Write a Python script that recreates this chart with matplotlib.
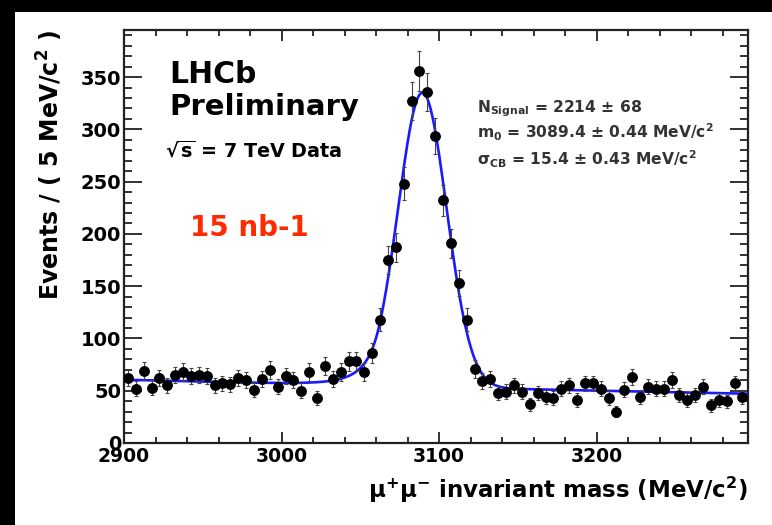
import numpy as np
import matplotlib
matplotlib.use('Agg')
import matplotlib.pyplot as plt
import matplotlib.ticker as ticker
from matplotlib.patches import Rectangle
from math import erf

plt.rcParams['font.family'] = ['DejaVu Sans']
plt.rcParams['font.weight'] = 'bold'
plt.rcParams['axes.labelweight'] = 'bold'
plt.rcParams['mathtext.default'] = 'regular'

# dimuon mass spectrum, 5 MeV bins
mass = np.arange(2902.5, 3296, 5.0)
counts = [62, 52, 69, 53, 62, 55, 65, 68, 64, 65,
          64, 55, 57, 56, 62, 60, 51, 61, 70, 54,
          64, 60, 50, 68, 43, 74, 61, 68, 78, 78,
          68, 86, 118, 175, 187, 248, 327, 356, 336, 294,
          232, 191, 153, 118, 71, 59, 61, 48, 49, 55,
          49, 37, 48, 44, 43, 52, 55, 41, 57, 57,
          52, 43, 30, 51, 63, 44, 54, 52, 52, 60,
          46, 41, 46, 54, 36, 41, 40, 57, 44]

# fit result (Crystal Ball signal + exponential background)
n_signal = 2214
m0 = 3089.4
sigma_cb = 15.4
cb_alpha = 1.8
cb_n = 5.0
bg_norm = 60.5
bg_slope = -0.00063
bin_width = 5.0
x_lo, x_hi = 2900, 3296


def crystal_ball(x):
    t = (x - m0) / sigma_cb
    a = abs(cb_alpha)
    A = (cb_n / a) ** cb_n * np.exp(-0.5 * a * a)
    B = cb_n / a - a
    core = np.exp(-0.5 * t * t)
    tail = A * np.power(np.clip(B - t, 1e-9, None), -cb_n)
    return np.where(t > -a, core, tail)


def fit_model(x):
    a = abs(cb_alpha)
    norm = (cb_n / a / (cb_n - 1) * np.exp(-0.5 * a * a)
            + np.sqrt(np.pi / 2) * (1 + erf(a / np.sqrt(2))))
    sig = n_signal * bin_width / (sigma_cb * norm) * crystal_ball(x)
    bg = bg_norm * np.exp(bg_slope * (x - x_lo))
    return sig + bg


fig = plt.figure(figsize=(7.72, 5.25), dpi=100)
fig.patch.set_facecolor('black')
fig.patches.append(Rectangle((15 / 772, 0), 1, 1 - 12 / 525, transform=fig.transFigure,
                             facecolor='white', edgecolor='none', zorder=-10))

ax = fig.add_axes([124 / 772, 1 - 443 / 525, (748 - 124) / 772, (443 - 30) / 525])
ax.set_facecolor('white')

xs = np.linspace(x_lo, x_hi, 800)
ax.plot(xs, fit_model(xs), color='#1a1aff', lw=1.9, zorder=3)
ax.errorbar(mass, counts, yerr=np.sqrt(counts), fmt='o', color='black', ms=6.8,
            ecolor='#444444', elinewidth=0.8, capsize=1.2, capthick=0.8, zorder=4)

ax.set_xlim(x_lo, x_hi)
ax.set_ylim(0, 395)
ax.xaxis.set_major_locator(ticker.MultipleLocator(100))
ax.xaxis.set_minor_locator(ticker.MultipleLocator(20))
ax.yaxis.set_major_locator(ticker.MultipleLocator(50))
ax.yaxis.set_minor_locator(ticker.MultipleLocator(10))
ax.tick_params(which='both', direction='in', top=True, right=True, width=1.3,
               color='#222222', labelsize=13.5, pad=3)
ax.tick_params(axis='x', which='major', length=8)
ax.tick_params(axis='x', which='minor', length=4)
ax.tick_params(axis='y', which='major', length=13)
ax.tick_params(axis='y', which='minor', length=6)
ax.tick_params(axis='y', labelsize=14, pad=2)
for s in ax.spines.values():
    s.set_linewidth(1.6)
    s.set_color('#222222')

ax.set_xlabel(r'$\mu^{+}\mu^{-}$ invariant mass (MeV/c$^{2}$)', fontsize=16.5, ha='right',
              x=1.0, labelpad=6)
ax.set_ylabel(r'Events / ( 5 MeV/c$^{2}$ )', fontsize=17, ha='right', y=1.0, labelpad=11)

ax.text(0.073, 0.872, 'LHCb', transform=ax.transAxes, fontsize=21.5, va='baseline')
ax.text(0.073, 0.794, 'Preliminary', transform=ax.transAxes, fontsize=21, va='baseline')
ax.text(0.066, 0.692, r'$\sqrt{s}$ = 7 TeV Data', transform=ax.transAxes, fontsize=13.8,
        va='baseline')
ax.text(0.106, 0.501, '15 nb-1', transform=ax.transAxes, fontsize=20, color='#ff2a00',
        va='baseline')

stats = [r'N$_{Signal}$ = 2214 $\pm$ 68',
         r'm$_{0}$ = 3089.4 $\pm$ 0.44 MeV/c$^{2}$',
         r'$\sigma_{CB}$ = 15.4 $\pm$ 0.43 MeV/c$^{2}$']
for i, line in enumerate(stats):
    ax.text(0.566, 0.801 - i * 0.064, line, transform=ax.transAxes, fontsize=11.2,
            color='#333333', va='baseline')

fig.savefig('out.png', dpi=100, facecolor=fig.get_facecolor())
